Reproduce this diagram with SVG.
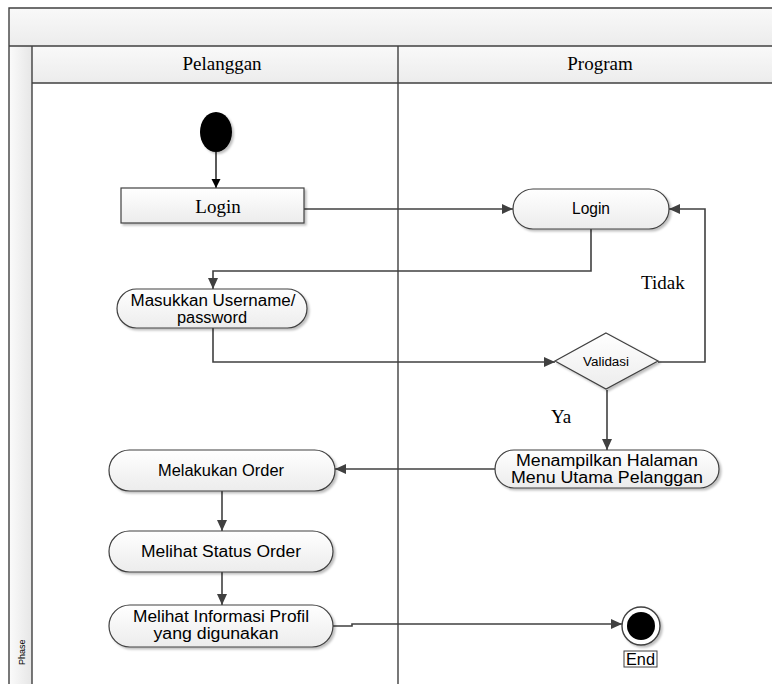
<svg xmlns="http://www.w3.org/2000/svg" width="772" height="684" viewBox="0 0 772 684">
  <defs>
    <linearGradient id="band" x1="0" y1="0" x2="0" y2="1">
      <stop offset="0" stop-color="#f9f9f9"/>
      <stop offset="1" stop-color="#ececec"/>
    </linearGradient>
    <linearGradient id="strip" x1="0" y1="0" x2="1" y2="0">
      <stop offset="0" stop-color="#fbfbfb"/>
      <stop offset="1" stop-color="#e6e6e6"/>
    </linearGradient>
    <linearGradient id="nodeFill" x1="0" y1="0" x2="0" y2="1">
      <stop offset="0" stop-color="#ffffff"/>
      <stop offset="1" stop-color="#ececec"/>
    </linearGradient>
    <filter id="shadow" x="-10%" y="-20%" width="125%" height="150%">
      <feDropShadow dx="2" dy="2" stdDeviation="1.2" flood-color="#000" flood-opacity="0.25"/>
    </filter>
    <marker id="arrow" markerUnits="userSpaceOnUse" markerWidth="12" markerHeight="10" refX="11" refY="5" orient="auto">
      <path d="M0,0 L11,5 L0,10 z" fill="#404040"/>
    </marker>
    <marker id="arrowBlack" markerUnits="userSpaceOnUse" markerWidth="10" markerHeight="10" refX="9" refY="4.5" orient="auto">
      <path d="M0,0 L9,4.5 L0,9 z" fill="#000"/>
    </marker>
  </defs>
  <style>
    .frame { fill: none; stroke: #404040; stroke-width: 1.4; }
    .node { fill: url(#nodeFill); stroke: #404040; stroke-width: 1.2; filter: url(#shadow); }
    .conn { fill: none; stroke: #404040; stroke-width: 1.6; marker-end: url(#arrow); }
    .serif { font-family: "Liberation Serif", "Times New Roman", serif; font-size: 19px; fill: #000; }
    .sans { font-family: "Liberation Sans", Arial, sans-serif; font-size: 16px; fill: #000; text-anchor: middle; }
  </style>

  <!-- Swimlane frame -->
  <g id="swimlanes">
    <rect x="9" y="8" width="770" height="38" fill="url(#band)"/>
    <rect x="9" y="46" width="23" height="645" fill="url(#strip)"/>
    <rect x="32" y="46" width="747" height="37" fill="url(#band)"/>
    <path class="frame" d="M9,690 L9,8 L780,8 M9,46 L780,46 M32,46 L32,690 M32,83 L780,83 M398,46 L398,690"/>
    <text class="serif" x="222" y="70" text-anchor="middle">Pelanggan</text>
    <text class="serif" x="600" y="70" text-anchor="middle">Program</text>
    <text x="25" y="665" transform="rotate(-90 25 665)" font-family="Liberation Sans, Arial, sans-serif" font-size="9" fill="#000">Phase</text>
  </g>

  <!-- Connectors -->
  <g id="connectors">
    <path d="M216,152 L216,188" fill="none" stroke="#000" stroke-width="1.3" marker-end="url(#arrowBlack)"/>
    <path class="conn" d="M304,209 L513,209"/>
    <path class="conn" d="M591,229 L591,271 L213,271 L213,289"/>
    <path class="conn" d="M213,328 L213,362 L555,362"/>
    <path class="conn" d="M658,362 L705,362 L705,209 L669,209"/>
    <path class="conn" d="M607,390 L607,450"/>
    <path class="conn" d="M495,469 L335,469"/>
    <path class="conn" d="M222,491 L222,531"/>
    <path class="conn" d="M222,572 L222,605"/>
    <path class="conn" d="M333,626 L352,626 L352,624 L622,624"/>
    <text class="serif" x="641" y="289">Tidak</text>
    <text class="serif" x="551" y="423">Ya</text>
  </g>

  <!-- Nodes -->
  <g id="start">
    <ellipse cx="216" cy="132" rx="16" ry="20" fill="#000" filter="url(#shadow)"/>
  </g>

  <g id="login-pelanggan">
    <rect class="node" x="121" y="188" width="183" height="35"/>
    <text class="serif" x="218" y="213" text-anchor="middle">Login</text>
  </g>

  <g id="login-program">
    <rect class="node" x="513" y="189" width="156" height="40" rx="20" ry="20"/>
    <text class="sans" x="591" y="214" textLength="38" lengthAdjust="spacingAndGlyphs">Login</text>
  </g>

  <g id="masukkan">
    <rect class="node" x="117" y="289" width="190" height="39" rx="19.5" ry="19.5"/>
    <text class="sans" x="213" y="306" textLength="165" lengthAdjust="spacingAndGlyphs">Masukkan Username/</text>
    <text class="sans" x="212" y="323" textLength="70" lengthAdjust="spacingAndGlyphs">password</text>
  </g>

  <g id="validasi">
    <polygon class="node" points="606,333 658,361 606,389 555,361"/>
    <text x="606" y="366" font-family="Liberation Sans, Arial, sans-serif" font-size="12" text-anchor="middle" textLength="46" lengthAdjust="spacingAndGlyphs">Validasi</text>
  </g>

  <g id="menampilkan">
    <rect class="node" x="495" y="450" width="224" height="38" rx="19" ry="19"/>
    <text class="sans" x="607" y="466" textLength="182" lengthAdjust="spacingAndGlyphs">Menampilkan Halaman</text>
    <text class="sans" x="607" y="483" textLength="192" lengthAdjust="spacingAndGlyphs">Menu Utama Pelanggan</text>
  </g>

  <g id="melakukan-order">
    <rect class="node" x="109" y="450" width="226" height="41" rx="20.5" ry="20.5"/>
    <text class="sans" x="221" y="476" textLength="126" lengthAdjust="spacingAndGlyphs">Melakukan Order</text>
  </g>

  <g id="status-order">
    <rect class="node" x="109" y="531" width="224" height="41" rx="20.5" ry="20.5"/>
    <text class="sans" x="221" y="557" textLength="160" lengthAdjust="spacingAndGlyphs">Melihat Status Order</text>
  </g>

  <g id="informasi-profil">
    <rect class="node" x="109" y="605" width="224" height="42" rx="21" ry="21"/>
    <text class="sans" x="221" y="622" textLength="176" lengthAdjust="spacingAndGlyphs">Melihat Informasi Profil</text>
    <text class="sans" x="216" y="639" textLength="125" lengthAdjust="spacingAndGlyphs">yang digunakan</text>
  </g>

  <g id="end">
    <circle cx="641" cy="626" r="19" fill="#fff" stroke="#404040" stroke-width="1.4" filter="url(#shadow)"/>
    <circle cx="641" cy="626" r="14" fill="#000"/>
    <rect x="624" y="651" width="33" height="16" fill="#fff" stroke="#404040" stroke-width="1"/>
    <text class="sans" x="640.5" y="665" textLength="29" lengthAdjust="spacingAndGlyphs">End</text>
  </g>
</svg>
